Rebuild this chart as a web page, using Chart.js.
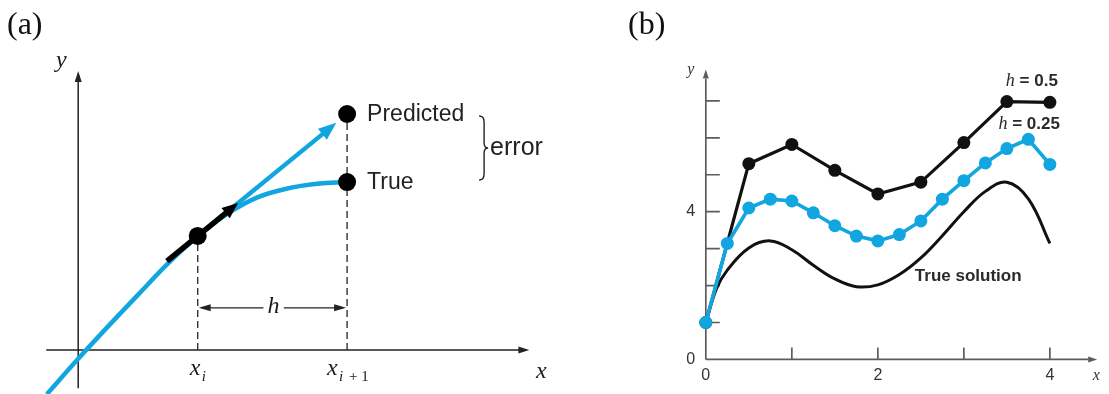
<!DOCTYPE html>
<html>
<head>
<meta charset="utf-8">
<script src="https://cdn.jsdelivr.net/npm/chart.js@4.4.1/dist/chart.umd.min.js"></script>
<style>
  html, body { margin: 0; padding: 0; background: #fff; }
  body { width: 1109px; height: 394px; position: relative; overflow: hidden; }
  canvas { position: absolute; top: 0; }
  #chartA { left: 0; }
  #chartB { left: 560px; }
</style>
</head>
<body>
<canvas id="chartA" width="560" height="394"></canvas>
<canvas id="chartB" width="549" height="394"></canvas>
<script>
// ---------- panel (a): one Euler step, abstract units ----------
const curveX = [-1.05, 0, 1, 2, 3, 4, 5, 6, 7, 8, 9];
const curveY = [-1.5, -0.30, 0.80, 1.87, 2.93, 3.87, 4.63, 5.18, 5.48, 5.64, 5.70];
const stepX = [4, 9];            // x_i, x_i+1
const stepStartY = 3.87;         // y at x_i
const predictedY = 8.01;
const trueEndY = 5.70;
const tangentTip = [8.64, 7.71];
const slopeArrow = [[2.97, 3.02], [5.35, 4.99]];
const hLevel = 1.43;

// ---------- panel (b): Euler with two step sizes ----------
const xH05 = [0, 0.5, 1, 1.5, 2, 2.5, 3, 3.5, 4];
const yH05 = [1, 5.3, 5.82, 5.12, 4.48, 4.8, 5.87, 6.98, 6.96];
const xH025 = [0, 0.25, 0.5, 0.75, 1, 1.25, 1.5, 1.75, 2, 2.25, 2.5, 2.75, 3, 3.25, 3.5, 3.75, 4];
const yH025 = [1, 3.14, 4.1, 4.34, 4.29, 3.97, 3.62, 3.34, 3.21, 3.38, 3.75, 4.34, 4.84, 5.32, 5.71, 5.96, 5.28];
const xTrue = [0, 0.125, 0.25, 0.5, 0.75, 1, 1.25, 1.5, 1.75, 2, 2.25, 2.5, 2.75, 3, 3.25, 3.5, 3.75, 4];
const yTrue = [1, 1.92, 2.42, 3.02, 3.21, 2.97, 2.55, 2.18, 1.97, 2.02, 2.3, 2.75, 3.35, 4.0, 4.55, 4.8, 4.35, 3.14];
const xTicksB = [1, 2, 3, 4];
const yTicksB = [1, 2, 3, 4, 5, 6, 7];
const xLabelsB = ["0", "2", "4"];
const yLabelsB = ["0", "4"];

const BLUE = "#12a6e0";
const INK = "#111";

const pts = (xs, ys) => xs.map((x, i) => ({ x: x, y: ys[i] }));

// filled triangle with its tip at (x2, y2)
const arrowHead = (ctx, x1, y1, x2, y2, len, half, color) => {
  const a = Math.atan2(y2 - y1, x2 - x1);
  const bx = x2 - len * Math.cos(a), by = y2 - len * Math.sin(a);
  ctx.save();
  ctx.fillStyle = color;
  ctx.beginPath();
  ctx.moveTo(x2, y2);
  ctx.lineTo(bx + half * Math.sin(a), by - half * Math.cos(a));
  ctx.lineTo(bx - half * Math.sin(a), by + half * Math.cos(a));
  ctx.closePath();
  ctx.fill();
  ctx.restore();
};

const hiddenScales = (xmin, xmax, ymin, ymax) => ({
  x: { type: "linear", min: xmin, max: xmax, display: false },
  y: { type: "linear", min: ymin, max: ymax, display: false },
});

const baseOptions = {
  responsive: false,
  animation: false,
  devicePixelRatio: 1,
  events: [],
  layout: { padding: 0 },
  plugins: { legend: { display: false }, tooltip: { enabled: false } },
};

// ---------- panel (a) drawing ----------
const panelA = {
  id: "panelA",
  beforeDatasetsDraw(chart) {
    const { ctx, scales: { x, y } } = chart;
    ctx.save();
    ctx.strokeStyle = "#222";
    ctx.lineWidth = 1.5;
    // axes
    ctx.beginPath();
    ctx.moveTo(x.getPixelForValue(-1.07), y.getPixelForValue(0));
    ctx.lineTo(x.getPixelForValue(14.8), y.getPixelForValue(0));
    ctx.moveTo(x.getPixelForValue(0), y.getPixelForValue(-1.3));
    ctx.lineTo(x.getPixelForValue(0), y.getPixelForValue(9.2));
    ctx.stroke();
    arrowHead(ctx, 0, y.getPixelForValue(0), x.getPixelForValue(15.1), y.getPixelForValue(0), 11, 3.5, "#222");
    arrowHead(ctx, x.getPixelForValue(0), 300, x.getPixelForValue(0), y.getPixelForValue(9.47), 11, 3.5, "#222");

    // dimension line for h
    const hy = y.getPixelForValue(hLevel);
    ctx.lineWidth = 1.4;
    ctx.beginPath();
    ctx.moveTo(x.getPixelForValue(stepX[0]) + 4, hy);
    ctx.lineTo(x.getPixelForValue(6.2), hy);
    ctx.moveTo(x.getPixelForValue(6.88), hy);
    ctx.lineTo(x.getPixelForValue(stepX[1]) - 4, hy);
    ctx.stroke();
    arrowHead(ctx, x.getPixelForValue(6), hy, x.getPixelForValue(stepX[0]) + 1, hy, 12, 3.5, "#222");
    arrowHead(ctx, x.getPixelForValue(7), hy, x.getPixelForValue(stepX[1]) - 1, hy, 12, 3.5, "#222");
    ctx.restore();
  },
  afterDatasetsDraw(chart) {
    const { ctx, scales: { x, y } } = chart;
    // arrow heads on the tangent and the slope arrow
    arrowHead(ctx, x.getPixelForValue(stepX[0]), y.getPixelForValue(stepStartY),
      x.getPixelForValue(tangentTip[0]), y.getPixelForValue(tangentTip[1]), 18, 7, BLUE);
    arrowHead(ctx, x.getPixelForValue(slopeArrow[0][0]), y.getPixelForValue(slopeArrow[0][1]),
      x.getPixelForValue(slopeArrow[1][0]), y.getPixelForValue(slopeArrow[1][1]), 16, 6.5, "#000");

    ctx.save();
    ctx.fillStyle = "#1a1a1a";
    ctx.textBaseline = "middle";
    // axis names
    ctx.font = "italic 24px 'Liberation Serif'";
    ctx.textAlign = "center";
    ctx.fillText("y", x.getPixelForValue(0) - 17, y.getPixelForValue(0) - 289);
    ctx.fillText("x", x.getPixelForValue(0) + 463, y.getPixelForValue(0) + 22);

    // x_i and x_i+1
    const px1 = x.getPixelForValue(stepX[0]), px2 = x.getPixelForValue(stepX[1]);
    const base = y.getPixelForValue(0) + 25;
    ctx.textBaseline = "alphabetic";
    ctx.textAlign = "left";
    ctx.font = "italic 24px 'Liberation Serif'";
    ctx.fillText("x", px1 - 8, base);
    ctx.fillText("x", px2 - 20, base);
    ctx.font = "italic 15px 'Liberation Serif'";
    ctx.fillText("i", px1 + 4, base + 6);
    ctx.fillText("i", px2 - 8, base + 6);
    ctx.font = "15px 'Liberation Serif'";
    ctx.fillText("+ 1", px2 + 2, base + 6);

    // h
    ctx.font = "italic 24px 'Liberation Serif'";
    ctx.textAlign = "center";
    ctx.textBaseline = "middle";
    ctx.fillText("h", x.getPixelForValue(6.54), y.getPixelForValue(hLevel) - 1);

    // Predicted / True / error
    ctx.font = "23px 'Liberation Sans'";
    ctx.textAlign = "left";
    ctx.fillStyle = "#222";
    ctx.fillText("Predicted", px2 + 20, y.getPixelForValue(predictedY) + 1);
    ctx.fillText("True", px2 + 20, y.getPixelForValue(trueEndY) + 1);
    const top = y.getPixelForValue(predictedY) + 2;
    const bot = y.getPixelForValue(trueEndY) - 2;
    const mid = (top + bot) / 2;
    ctx.font = "25px 'Liberation Sans'";
    ctx.fillText("error", px2 + 143, mid);

    // curly brace
    const x0 = px2 + 132, xm = px2 + 137, xt = px2 + 141;
    ctx.strokeStyle = "#222";
    ctx.lineWidth = 1.4;
    ctx.beginPath();
    ctx.moveTo(x0, top);
    ctx.quadraticCurveTo(xm, top, xm, top + 6);
    ctx.lineTo(xm, mid - 5);
    ctx.quadraticCurveTo(xm, mid, xt, mid);
    ctx.quadraticCurveTo(xm, mid, xm, mid + 5);
    ctx.lineTo(xm, bot - 6);
    ctx.quadraticCurveTo(xm, bot, x0, bot);
    ctx.stroke();

    // panel tag
    ctx.fillStyle = "#111";
    ctx.font = "32px 'Liberation Serif'";
    ctx.textBaseline = "alphabetic";
    ctx.fillText("(a)", 7, 34);
    ctx.restore();
  },
};

const dashed = (xv, yv) => ({
  data: pts([xv, xv], [0, yv]),
  showLine: true,
  borderColor: "#333",
  borderWidth: 1.4,
  borderDash: [7, 4],
  pointRadius: 0,
  order: 5,
});

const slopeTail = slopeArrow[1][0] - 0.3;

new Chart(document.getElementById("chartA"), {
  type: "scatter",
  data: {
    datasets: [
      {
        data: pts([stepX[0], stepX[1], stepX[1]], [stepStartY, predictedY, trueEndY]),
        pointRadius: 9,
        pointBackgroundColor: "#000",
        pointBorderWidth: 0,
        showLine: false,
        order: 0,
      },
      {
        data: pts([slopeArrow[0][0], slopeTail],
          [slopeArrow[0][1], slopeArrow[0][1] + (slopeTail - slopeArrow[0][0]) * (slopeArrow[1][1] - slopeArrow[0][1]) / (slopeArrow[1][0] - slopeArrow[0][0])]),
        showLine: true,
        borderColor: "#000",
        borderWidth: 5.5,
        pointRadius: 0,
        order: 1,
      },
      {
        data: pts([stepX[0], tangentTip[0] - 0.35],
          [stepStartY, stepStartY + (tangentTip[0] - 0.35 - stepX[0]) * (tangentTip[1] - stepStartY) / (tangentTip[0] - stepX[0])]),
        showLine: true,
        borderColor: BLUE,
        borderWidth: 4.5,
        pointRadius: 0,
        order: 2,
      },
      {
        data: pts(curveX, curveY),
        showLine: true,
        tension: 0.4,
        borderColor: BLUE,
        borderWidth: 4.5,
        pointRadius: 0,
        order: 3,
      },
      dashed(stepX[0], stepStartY),
      dashed(stepX[1], predictedY),
    ].map(d => Object.assign({ clip: false }, d)),
  },
  options: Object.assign({}, baseOptions, {
    scales: hiddenScales(-71.5 / 30.87, (560 - 71.5) / 30.87, (357.3 - 394) / 30.87, 357.3 / 30.87),
  }),
  plugins: [panelA],
});

// ---------- panel (b) drawing ----------
const drawSeriesLabel = (ctx, right, cy, value) => {
  ctx.font = "bold 17px 'Liberation Sans'";
  const rest = " = " + value;
  const w = ctx.measureText(rest).width;
  ctx.fillText(rest, right - w, cy);
  ctx.font = "italic 18px 'Liberation Serif'";
  const hw = ctx.measureText("h").width;
  ctx.fillText("h", right - w - hw, cy);
};

const panelB = {
  id: "panelB",
  beforeDatasetsDraw(chart) {
    const { ctx, scales: { x, y } } = chart;
    const x0 = x.getPixelForValue(0), y0 = y.getPixelForValue(0);
    ctx.save();
    ctx.strokeStyle = "#5c5c5c";
    ctx.lineWidth = 1.7;
    ctx.beginPath();
    ctx.moveTo(x0, y0);
    ctx.lineTo(x.getPixelForValue(4.45), y0);
    ctx.moveTo(x0, y0);
    ctx.lineTo(x0, y.getPixelForValue(7.6));
    yTicksB.forEach(v => {
      ctx.moveTo(x0, y.getPixelForValue(v));
      ctx.lineTo(x0 + 14, y.getPixelForValue(v));
    });
    xTicksB.forEach(v => {
      ctx.moveTo(x.getPixelForValue(v), y0);
      ctx.lineTo(x.getPixelForValue(v), y0 - 12);
    });
    ctx.stroke();
    arrowHead(ctx, x0, y0, x.getPixelForValue(4.55), y0, 9, 3, "#5c5c5c");
    arrowHead(ctx, x0, y0, x0, y.getPixelForValue(7.85), 9, 3, "#5c5c5c");
    ctx.restore();
  },
  afterDatasetsDraw(chart) {
    const { ctx, scales: { x, y } } = chart;
    const x0 = x.getPixelForValue(0), y0 = y.getPixelForValue(0);
    ctx.save();
    ctx.fillStyle = "#333";
    ctx.textAlign = "center";
    ctx.textBaseline = "middle";
    ctx.font = "16px 'Liberation Sans'";
    xLabelsB.forEach(t => ctx.fillText(t, x.getPixelForValue(Number(t)), y0 + 16));
    yLabelsB.forEach(t => ctx.fillText(t, x0 - 15, y.getPixelForValue(Number(t))));
    ctx.font = "italic 16px 'Liberation Serif'";
    ctx.fillText("x", x.getPixelForValue(4.54), y0 + 16);
    ctx.fillText("y", x0 - 15, y.getPixelForValue(7.85));

    ctx.fillStyle = "#2a2a2a";
    ctx.textAlign = "left";
    const last05 = xH05.length - 1, last025 = xH025.length - 1;
    drawSeriesLabel(ctx, x.getPixelForValue(xH05[last05]) + 8, y.getPixelForValue(yH05[last05]) - 21, "0.5");
    drawSeriesLabel(ctx, x.getPixelForValue(xH025[last025]) + 10, y.getPixelForValue(yH025[last025]) - 40, "0.25");

    ctx.font = "bold 17px 'Liberation Sans'";
    ctx.fillText("True solution", x.getPixelForValue(2.43), y.getPixelForValue(2.26));

    ctx.fillStyle = "#111";
    ctx.font = "32px 'Liberation Serif'";
    ctx.textBaseline = "alphabetic";
    ctx.fillText("(b)", 628 - 560, 34);
    ctx.restore();
  },
};

new Chart(document.getElementById("chartB"), {
  type: "scatter",
  data: {
    datasets: [
      {
        label: "h = 0.25",
        data: pts(xH025, yH025),
        showLine: true,
        borderColor: BLUE,
        borderWidth: 3.6,
        pointRadius: 6.5,
        pointBackgroundColor: BLUE,
        pointBorderWidth: 0,
        order: 0,
      },
      {
        label: "h = 0.5",
        data: pts(xH05, yH05),
        showLine: true,
        borderColor: INK,
        borderWidth: 3.2,
        pointRadius: 6.5,
        pointBackgroundColor: INK,
        pointBorderWidth: 0,
        order: 1,
      },
      {
        label: "True solution",
        data: pts(xTrue, yTrue),
        showLine: true,
        tension: 0.4,
        borderColor: INK,
        borderWidth: 3,
        pointRadius: 0,
        order: 2,
      },
    ].map(d => Object.assign({ clip: false }, d)),
  },
  options: Object.assign({}, baseOptions, {
    scales: hiddenScales(-142.7 / 88.1, (549 - 142.7) / 88.1, -29 / 38.2, 365 / 38.2),
  }),
  plugins: [panelB],
});
</script>
</body>
</html>
